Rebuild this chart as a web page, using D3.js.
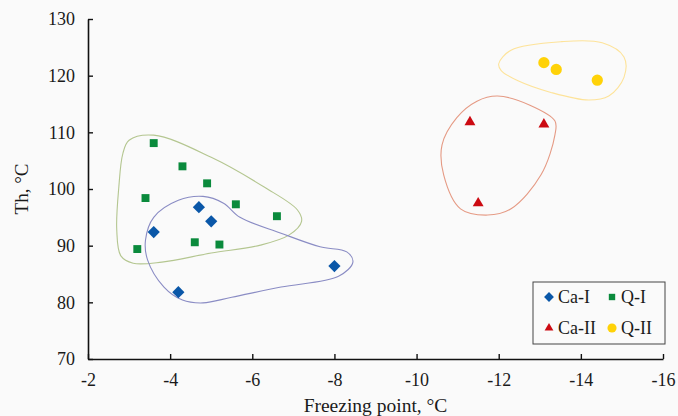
<!DOCTYPE html>
<html>
<head>
<meta charset="utf-8">
<script src="https://cdn.jsdelivr.net/npm/d3@7"></script>
<style>
  body { margin: 0; background: #fafafa; }
  text { font-family: "Liberation Serif", "Times New Roman", serif; fill: #1a1a1a; }
</style>
</head>
<body>
<div id="chart"></div>
<script>
// point data: [freezing point, Th]
var caI  = [[-3.6, 92.4], [-4.2, 81.8], [-4.7, 96.8], [-5.0, 94.3], [-8.0, 86.4]];
var qI   = [[-3.6, 108.1], [-4.3, 104.0], [-4.9, 101.0], [-3.4, 98.4], [-5.6, 97.3],
            [-6.6, 95.2], [-3.2, 89.4], [-4.6, 90.6], [-5.2, 90.2]];
var caII = [[-11.3, 111.8], [-13.1, 111.4], [-11.5, 97.5]];
var qII  = [[-13.1, 122.3], [-13.4, 121.1], [-14.4, 119.2]];

// hand drawn outlines round each group (data units)
var qIOutline = [[-3.0, 108.6], [-3.6, 109.5], [-5.0, 105.6], [-6.3, 100.3], [-7.1, 96.3],
                 [-7.2, 94.3], [-6.9, 91.9], [-6.2, 90.1], [-5.0, 88.7], [-3.8, 87.1],
                 [-3.1, 86.9], [-2.8, 88.2], [-2.7, 92.8], [-2.75, 100.3], [-2.85, 106.3]];
var caIOutline = [[-4.8, 98.7], [-4.2, 98.0], [-3.6, 95.0], [-3.4, 91.0], [-3.45, 87.5],
                  [-3.85, 82.7], [-4.3, 80.4], [-4.8, 79.9], [-5.5, 80.9], [-6.7, 82.7],
                  [-8.1, 84.6], [-8.45, 87.1], [-8.3, 88.9], [-7.65, 89.8], [-6.7, 92.2],
                  [-5.7, 95.0], [-5.3, 97.5]];
var caIIOutline = [[-11.97, 116.4], [-12.76, 114.8], [-13.37, 112.0], [-13.37, 109.6],
                   [-13.03, 102.5], [-12.3, 96.5], [-11.73, 95.4], [-11.07, 96.5],
                   [-10.66, 102.5], [-10.62, 107.8], [-10.98, 112.6], [-11.47, 115.5]];
var qIIOutline = [[-12.0, 122.1], [-12.3, 124.5], [-13.53, 126.0], [-14.52, 125.8],
                  [-15.05, 123.3], [-15.05, 119.7], [-14.68, 116.4], [-14.19, 115.7],
                  [-13.29, 117.0], [-12.47, 119.1], [-12.06, 120.9]];

var xTicks = [-2, -4, -6, -8, -10, -12, -14, -16];
var yTicks = [70, 80, 90, 100, 110, 120, 130];
var legendLabels = ["Ca-I", "Q-I", "Ca-II", "Q-II"];

var width = 678, height = 416;
var margin = {top: 19, right: 15, bottom: 57, left: 88};

var svg = d3.select("#chart").append("svg")
  .attr("width", width)
  .attr("height", height);

svg.append("rect").attr("width", width).attr("height", height).attr("fill", "#fafafa");

var x = d3.scaleLinear().domain([-2, -16]).range([margin.left, width - margin.right]);
var y = d3.scaleLinear().domain([70, 130]).range([height - margin.bottom, margin.top]);

// outlines
var outline = d3.line()
  .x(function(d) { return x(d[0]); })
  .y(function(d) { return y(d[1]); })
  .curve(d3.curveCatmullRomClosed.alpha(0.5));

var outlines = [
  {pts: qIOutline, color: "#b4c690"},
  {pts: caIOutline, color: "#8a8cc4"},
  {pts: caIIOutline, color: "#e59a84"},
  {pts: qIIOutline, color: "#fde39a"}
];
svg.selectAll("path.outline")
  .data(outlines)
  .enter().append("path")
  .attr("class", "outline")
  .attr("d", function(d) { return outline(d.pts); })
  .attr("fill", "none")
  .attr("stroke", function(d) { return d.color; })
  .attr("stroke-width", 1.1);

// axes
var xAxis = svg.append("g")
  .attr("transform", "translate(0," + y(70) + ")")
  .call(d3.axisBottom(x).tickValues(xTicks).tickSizeInner(-5).tickSizeOuter(0).tickPadding(14)
    .tickFormat(function(d) { return d; }));
var yAxis = svg.append("g")
  .attr("transform", "translate(" + x(-2) + ",0)")
  .call(d3.axisLeft(y).tickValues(yTicks).tickSizeInner(-5).tickSizeOuter(0).tickPadding(13));

[xAxis, yAxis].forEach(function(a) {
  a.attr("font-family", "Liberation Serif");
  a.select(".domain").attr("stroke", "#111").attr("stroke-width", 1.6);
  a.selectAll(".tick line").attr("stroke", "#111").attr("stroke-width", 1.4);
  a.selectAll(".tick text").attr("font-size", 18).attr("fill", "#1a1a1a");
});

svg.append("text")
  .attr("x", (x(-2) + x(-16)) / 2)
  .attr("y", 412)
  .attr("text-anchor", "middle")
  .attr("font-size", 19.5)
  .text("Freezing point, \u00B0C");

svg.append("text")
  .attr("transform", "translate(28," + y(100) + ") rotate(-90)")
  .attr("text-anchor", "middle")
  .attr("font-size", 19)
  .text("Th, \u00B0C");

// markers
var symbols = [
  {data: caI,  type: d3.symbolDiamond2, size: 95, color: "#0a57a8"},
  {data: qI,   type: d3.symbolSquare2, size: 80, color: "#0a8a3c"},
  {data: caII, type: d3.symbolTriangle2, size: 85, color: "#cc0a12"},
  {data: qII,  type: d3.symbolCircle, size: 100, color: "#ffd208"}
];

symbols.forEach(function(s) {
  svg.append("g").selectAll("path")
    .data(s.data)
    .enter().append("path")
    .attr("transform", function(d) { return "translate(" + x(d[0]) + "," + y(d[1]) + ")"; })
    .attr("d", d3.symbol().type(s.type).size(s.size))
    .attr("fill", s.color);
});

// legend
var legend = svg.append("g").attr("transform", "translate(533,282)");
legend.append("rect")
  .attr("width", 132).attr("height", 62)
  .attr("fill", "#fafafa").attr("stroke", "#444").attr("stroke-width", 1);

var legendItem = legend.selectAll("g.item")
  .data(legendLabels)
  .enter().append("g")
  .attr("class", "item")
  .attr("transform", function(d, i) { return "translate(" + (i % 2 ? 79 : 16) + "," + (i < 2 ? 15 : 46) + ")"; });

legendItem.append("path")
  .attr("d", function(d, i) { return d3.symbol().type(symbols[i].type).size(symbols[i].size * 0.65)(); })
  .attr("fill", function(d, i) { return symbols[i].color; });
legendItem.append("text")
  .attr("x", 9)
  .attr("y", 6)
  .attr("font-size", 18)
  .text(function(d) { return d; });
</script>
</body>
</html>
